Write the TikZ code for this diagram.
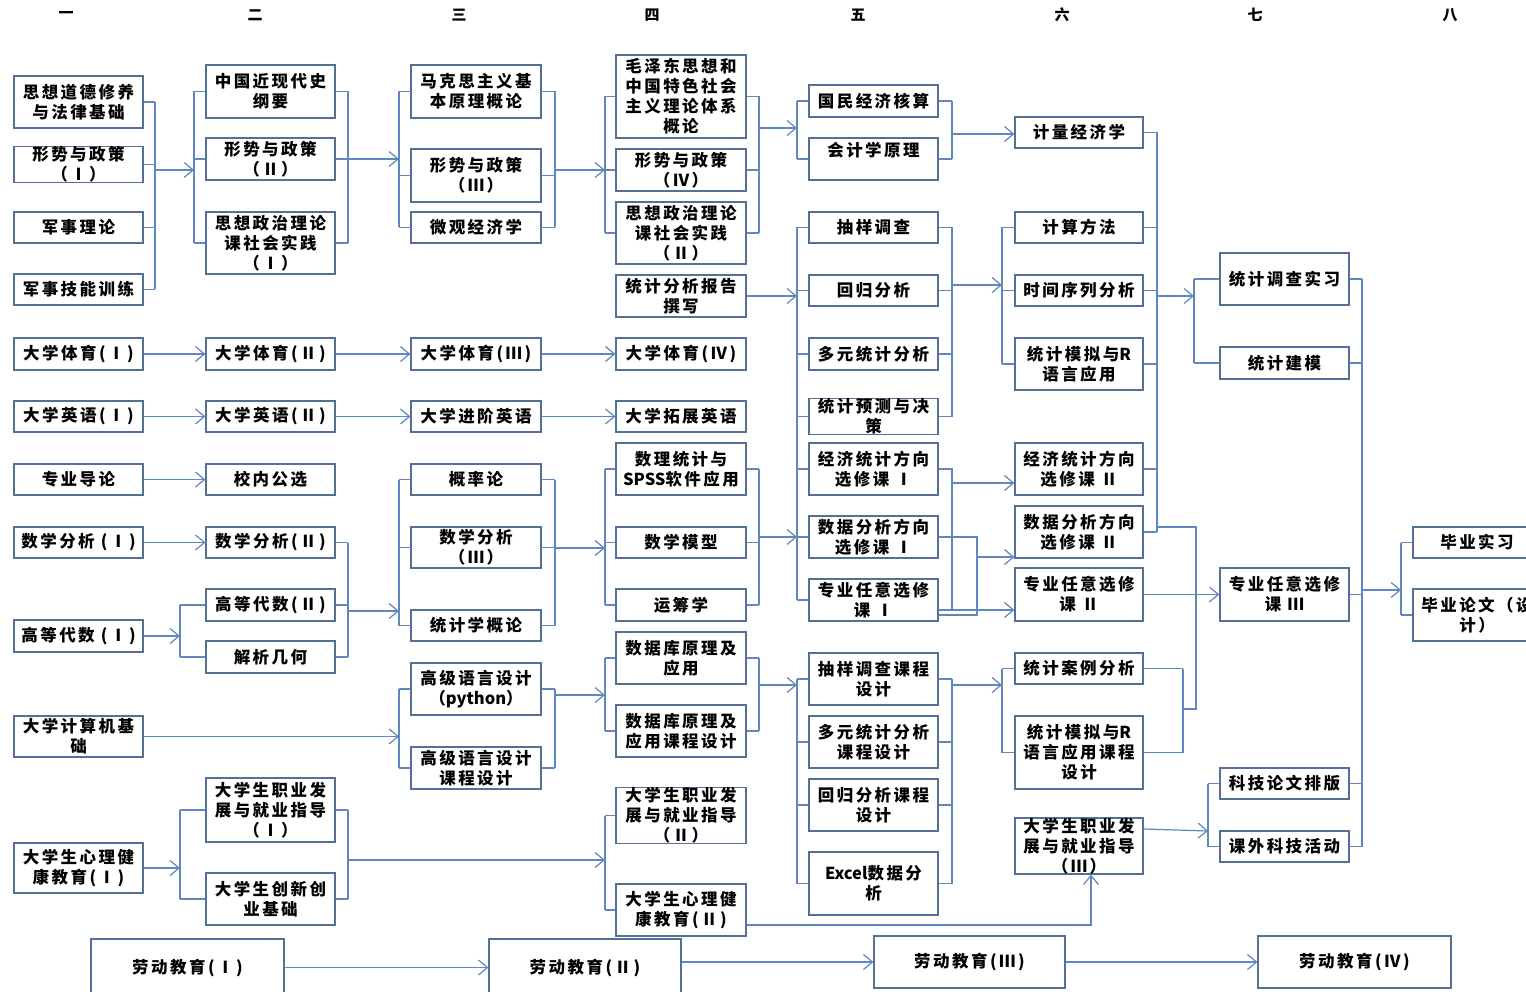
\documentclass[tikz,border=0pt]{standalone}
\usepackage{fontspec}
\setmainfont{Noto Sans CJK SC}[LetterSpace=15]
\usetikzlibrary{arrows.meta}
\definecolor{boxc}{RGB}{84,112,150}
\definecolor{linec}{RGB}{96,136,190}
\newcommand\lat[1]{{\addfontfeature{LetterSpace=0}#1}}
\tikzset{
  box/.style={draw=boxc, line width=1.2pt, inner sep=0pt, align=center,
    font=\bfseries\fontsize{16.5}{20}\selectfont},
  ln/.style={draw=linec, line width=1.2pt},
  arr/.style={ln, -{Straight Barb[length=9pt,width=15pt,line width=1.2pt]}},
  hd/.style={font=\bfseries\fontsize{15}{15}\selectfont}
}
\newcommand\bx[6]{\node[box,minimum width={#4-#2},minimum height={#5-#3}] (#1) at ({(#2+#4)/2},{(#3+#5)/2}) {#6};}
\newcommand\rbr[4]{\draw[ln] (#2.east -| #1) -- (#3.east -| #1);
  \foreach \nd in {#4}{\draw[ln] (\nd.east) -- (\nd.east -| #1);}}
\newcommand\lbr[4]{\draw[ln] (#2.west -| #1) -- (#3.west -| #1);
  \foreach \nd in {#4}{\draw[ln] (\nd.west) -- (\nd.west -| #1);}}
\begin{document}
\begin{tikzpicture}[x=1pt,y=-1pt]
\fill[white] (0,0) rectangle (1526,992);
\useasboundingbox (0,0) rectangle (1526,992);
% headers
\node[hd] (h1) at (66,15) {一};
\node[hd] (h2) at (255,15) {二};
\node[hd] (h3) at (459,15) {三};
\node[hd] (h4) at (652,15) {四};
\node[hd] (h5) at (858,15) {五};
\node[hd] (h6) at (1062,15) {六};
\node[hd] (h7) at (1255,15) {七};
\node[hd] (h8) at (1450,15) {八};
% column 1
\bx{c1a}{14}{76}{143}{128}{思想道德修养\\与法律基础}
\bx{c1b}{14}{149}{143}{180}{形势与政策\\（Ⅰ）}
\bx{c1c}{14}{212}{143}{243}{军事理论}
\bx{c1d}{14}{274}{143}{305}{军事技能训练}
\bx{c1e}{14}{338}{143}{370}{大学体育(Ⅰ)}
\bx{c1f}{14}{401}{143}{432}{大学英语(Ⅰ)}
\bx{c1g}{14}{464}{143}{495}{专业导论}
\bx{c1h}{14}{527}{143}{558}{数学分析 (Ⅰ)}
\bx{c1i}{14}{620}{143}{652}{高等代数 (Ⅰ)}
\bx{c1j}{14}{716}{143}{757}{大学计算机基\\础}
\bx{c1k}{14}{843}{143}{893}{大学生心理健\\康教育(Ⅰ)}
% column 2
\bx{c2a}{206}{65}{335}{118}{中国近现代史\\纲要}
\bx{c2b}{206}{138}{335}{180}{形势与政策\\（Ⅱ）}
\bx{c2c}{206}{212}{335}{274}{思想政治理论\\课社会实践\\（Ⅰ）}
\bx{c2d}{206}{338}{335}{370}{大学体育(Ⅱ)}
\bx{c2e}{206}{401}{335}{432}{大学英语(Ⅱ)}
\bx{c2f}{206}{464}{335}{495}{校内公选}
\bx{c2g}{206}{527}{335}{558}{数学分析(Ⅱ)}
\bx{c2h}{206}{589}{335}{621}{高等代数(Ⅱ)}
\bx{c2i}{206}{641}{335}{673}{解析几何}
\bx{c2j}{206}{778}{335}{842}{大学生职业发\\展与就业指导\\（Ⅰ）}
\bx{c2k}{206}{873}{335}{925}{大学生创新创\\业基础}
% column 3
\bx{c3a}{411}{65}{541}{118}{马克思主义基\\本原理概论}
\bx{c3b}{411}{149}{541}{202}{形势与政策\\（Ⅲ）}
\bx{c3c}{411}{212}{541}{243}{微观经济学}
\bx{c3d}{411}{338}{541}{370}{大学体育(Ⅲ)}
\bx{c3e}{411}{401}{541}{432}{大学进阶英语}
\bx{c3f}{411}{464}{541}{495}{概率论}
\bx{c3g}{411}{527}{541}{568}{数学分析\\（Ⅲ）}
\bx{c3h}{411}{610}{541}{641}{统计学概论}
\bx{c3i}{411}{663}{541}{715}{高级语言设计\\（\lat{python}）}
\bx{c3j}{411}{747}{541}{789}{高级语言设计\\课程设计}
% column 4
\bx{c4a}{616}{55}{746}{138}{毛泽东思想和\\中国特色社会\\主义理论体系\\概论}
\bx{c4b}{616}{149}{746}{191}{形势与政策\\（Ⅳ）}
\bx{c4c}{616}{202}{746}{264}{思想政治理论\\课社会实践\\（Ⅱ）}
\bx{c4d}{616}{275}{746}{317}{统计分析报告\\撰写}
\bx{c4e}{616}{338}{746}{370}{大学体育(Ⅳ)}
\bx{c4f}{616}{401}{746}{432}{大学拓展英语}
\bx{c4g}{616}{443}{746}{495}{数理统计与\\\lat{SPSS}软件应用}
\bx{c4h}{616}{527}{746}{558}{数学模型}
\bx{c4i}{616}{589}{746}{621}{运筹学}
\bx{c4j}{616}{632}{746}{684}{数据库原理及\\应用}
\bx{c4k}{616}{705}{746}{757}{数据库原理及\\应用课程设计}
\bx{c4l}{616}{789}{746}{842}{大学生职业发\\展与就业指导\\（Ⅱ）}
\bx{c4m}{616}{884}{746}{936}{大学生心理健\\康教育(Ⅱ)}
% column 5
\bx{c5a}{809}{85}{938}{117}{国民经济核算}
\bx{c5b}{809}{138}{938}{180}{会计学原理\\~}
\bx{c5c}{809}{212}{938}{243}{抽样调查}
\bx{c5d}{809}{275}{938}{306}{回归分析}
\bx{c5e}{809}{338}{938}{370}{多元统计分析}
\bx{c5f}{809}{401}{938}{432}{统计预测与决\\策}
\bx{c5g}{809}{443}{938}{495}{经济统计方向\\选修课 Ⅰ}
\bx{c5h}{809}{516}{938}{558}{数据分析方向\\选修课 Ⅰ}
\bx{c5i}{809}{579}{938}{621}{专业任意选修\\课 Ⅰ}
\bx{c5j}{809}{653}{938}{705}{抽样调查课程\\设计}
\bx{c5k}{809}{716}{938}{768}{多元统计分析\\课程设计}
\bx{c5l}{809}{779}{938}{831}{回归分析课程\\设计}
\bx{c5m}{809}{852}{938}{915}{\lat{Excel}数据分\\析}
% column 6
\bx{c6a}{1015}{117}{1143}{148}{计量经济学}
\bx{c6b}{1015}{212}{1143}{243}{计算方法}
\bx{c6c}{1015}{275}{1143}{306}{时间序列分析}
\bx{c6d}{1015}{338}{1143}{390}{统计模拟与\lat{R}\\语言应用}
\bx{c6e}{1015}{443}{1143}{495}{经济统计方向\\选修课 Ⅱ}
\bx{c6f}{1015}{506}{1143}{558}{数据分析方向\\选修课 Ⅱ}
\bx{c6g}{1015}{568}{1143}{621}{专业任意选修\\课 Ⅱ}
\bx{c6h}{1015}{653}{1143}{684}{统计案例分析}
\bx{c6i}{1015}{716}{1143}{789}{统计模拟与\lat{R}\\语言应用课程\\设计}
\bx{c6j}{1015}{820}{1143}{872}{大学生职业发\\展与就业指导\\（Ⅲ）}
% column 7
\bx{c7a}{1220}{253}{1349}{305}{统计调查实习}
\bx{c7b}{1220}{347}{1349}{379}{统计建模}
\bx{c7c}{1220}{568}{1349}{621}{专业任意选修\\课 Ⅲ}
\bx{c7d}{1220}{768}{1349}{799}{科技论文排版}
\bx{c7e}{1220}{831}{1349}{862}{课外科技活动}
% column 8
\bx{c8a}{1413}{527}{1541}{558}{毕业实习}
\bx{c8b}{1413}{589}{1541}{641}{毕业论文（设\\计）}
% bottom row
\bx{L1}{91}{939}{284}{996}{劳动教育(Ⅰ)}
\bx{L2}{489}{939}{681}{996}{劳动教育(Ⅱ)}
\bx{L3}{874}{936}{1065}{988}{劳动教育(Ⅲ)}
\bx{L4}{1258}{936}{1451}{988}{劳动教育(Ⅳ)}
% bracket x positions
\coordinate (X155) at (155,0);
\coordinate (X180) at (180,0);
\coordinate (X194) at (194,0);
\coordinate (X348) at (348,0);
\coordinate (X399) at (399,0);
\coordinate (X555) at (555,0);
\coordinate (X605) at (605,0);
\coordinate (X759) at (759,0);
\coordinate (X797) at (797,0);
\coordinate (X952) at (952,0);
\coordinate (X977) at (977,0);
\coordinate (X1002) at (1002,0);
\coordinate (X1157) at (1157,0);
\coordinate (X1183) at (1183,0);
\coordinate (X1194) at (1194,0);
\coordinate (X1196) at (1196,0);
\coordinate (X1208) at (1208,0);
\coordinate (X1362) at (1362,0);
\coordinate (X1401) at (1401,0);
% brackets
\rbr{X155}{c1a}{c1d}{c1a,c1b,c1c,c1d}
\lbr{X194}{c2a}{c2c}{c2a,c2b,c2c}
\rbr{X348}{c2a}{c2c}{c2a,c2b,c2c}
\lbr{X399}{c3a}{c3c}{c3a,c3b,c3c}
\rbr{X555}{c3a}{c3c}{c3a,c3b,c3c}
\lbr{X605}{c4a}{c4c}{c4a,c4b,c4c}
\rbr{X759}{c4a}{c4c}{c4a,c4b,c4c}
\lbr{X797}{c5a}{c5b}{c5a,c5b}
\rbr{X952}{c5a}{c5b}{c5a,c5b}
\lbr{X797}{c5c}{c5i}{c5c,c5d,c5e,c5f,c5g,c5h,c5i}
\rbr{X952}{c5c}{c5f}{c5c,c5d,c5e,c5f}
\lbr{X1002}{c6b}{c6d}{c6b,c6c,c6d}
\rbr{X1157}{c6a}{c6f}{c6a,c6b,c6c,c6d,c6e,c6f}
\lbr{X1194}{c7a}{c7b}{c7a,c7b}
\rbr{X1362}{c7a}{c7e}{c7a,c7b,c7c,c7d,c7e}
\lbr{X1401}{c8a}{c8b}{c8a,c8b}
\lbr{X180}{c2h}{c2i}{c2h,c2i}
\rbr{X348}{c2g}{c2i}{c2g,c2h,c2i}
\lbr{X399}{c3f}{c3h}{c3f,c3g,c3h}
\rbr{X555}{c3f}{c3h}{c3f,c3g,c3h}
\lbr{X605}{c4g}{c4i}{c4g,c4h,c4i}
\rbr{X759}{c4g}{c4i}{c4g,c4h,c4i}
\lbr{X399}{c3i}{c3j}{c3i,c3j}
\rbr{X555}{c3i}{c3j}{c3i,c3j}
\lbr{X605}{c4j}{c4k}{c4j,c4k}
\rbr{X759}{c4j}{c4k}{c4j,c4k}
\lbr{X797}{c5j}{c5m}{c5j,c5k,c5l,c5m}
\rbr{X952}{c5j}{c5m}{c5j,c5k,c5l,c5m}
\lbr{X1002}{c6h}{c6i}{c6h,c6i}
\rbr{X1183}{c6h}{c6i}{c6h,c6i}
\lbr{X180}{c2j}{c2k}{c2j,c2k}
\rbr{X348}{c2j}{c2k}{c2j,c2k}
\lbr{X605}{c4l}{c4m}{c4l,c4m}
\lbr{X1208}{c7d}{c7e}{c7d,c7e}
% elective links column 5 -> 6
\coordinate (k610) at (952,610);
\draw[ln] (c5g.east) -- (c5g.east -| X952) -- (k610);
\coordinate (k615) at (977,615);
\draw[ln] (c5h.east) -- (c5h.east -| X977) -- (k615) -- (k615 -| c5i.east);
\coordinate (m527) at (1157,527);
\coordinate (m709) at (1183,709);
\draw[ln] (m527) -- (m527 -| X1196) -- (X1196 |- m709) -- (m709);
% arrows
\coordinate (a1) at (155,170);  \draw[arr] (a1) -- (a1 -| X194);
\coordinate (a2) at (348,159);  \draw[arr] (a2) -- (a2 -| X399);
\coordinate (a3) at (555,170);  \draw[arr] (a3) -- (a3 -| X605);
\coordinate (a4) at (759,128);  \draw[arr] (a4) -- (a4 -| X797);
\coordinate (a5) at (952,134);  \draw[arr] (a5) -- (a5 -| c6a.west);
\draw[arr] (c4d.east) -- (c4d.east -| X797);
\coordinate (a7) at (952,285);  \draw[arr] (a7) -- (a7 -| X1002);
\coordinate (a8) at (1157,296); \draw[arr] (a8) -- (a8 -| X1194);
\coordinate (a9) at (1362,590); \draw[arr] (a9) -- (a9 -| X1401);
\draw[arr] (c1e) -- (c2d);
\draw[arr] (c2d) -- (c3d);
\draw[arr] (c3d) -- (c4e);
\draw[arr] (c1f) -- (c2e);
\draw[arr] (c2e) -- (c3e);
\draw[arr] (c3e) -- (c4f);
\draw[arr] (c1g) -- (c2f);
\draw[arr] (c1h) -- (c2g);
\draw[arr] (c1i.east) -- (c1i.east -| X180);
\coordinate (a15) at (348,611); \draw[arr] (a15) -- (a15 -| X399);
\coordinate (a16) at (555,548); \draw[arr] (a16) -- (a16 -| X605);
\coordinate (a17) at (759,537); \draw[arr] (a17) -- (a17 -| X797);
\draw[arr] (c1j.east) -- (c1j.east -| X399);
\coordinate (a19) at (555,695); \draw[arr] (a19) -- (a19 -| X605);
\coordinate (a20) at (759,685); \draw[arr] (a20) -- (a20 -| X797);
\coordinate (a21) at (952,685); \draw[arr] (a21) -- (a21 -| X1002);
\draw[arr] (c1k.east) -- (c1k.east -| X180);
\coordinate (a23) at (348,860); \draw[arr] (a23) -- (a23 -| X605);
\draw[arr] ([yshift=-15pt]c4m.east) -| ([xshift=12pt]c6j.south);
\coordinate (a25) at (1208,831);
\draw[arr] ([yshift=17pt]c6j.east) -- (a25);
\coordinate (a26) at (952,483); \draw[arr] (a26) -- (a26 -| c6e.west);
\coordinate (a27) at (977,557); \draw[arr] (a27) -- (a27 -| c6f.west);
\draw[arr] (k610 -| c5i.east) -- (k610 -| c6g.west);
\draw[arr] (c6g) -- (c7c);
\draw[arr] (L1) -- (L2);
\draw[arr] (L2.east |- L3.west) -- (L3.west);
\draw[arr] (L3) -- (L4);
\end{tikzpicture}
\end{document}
